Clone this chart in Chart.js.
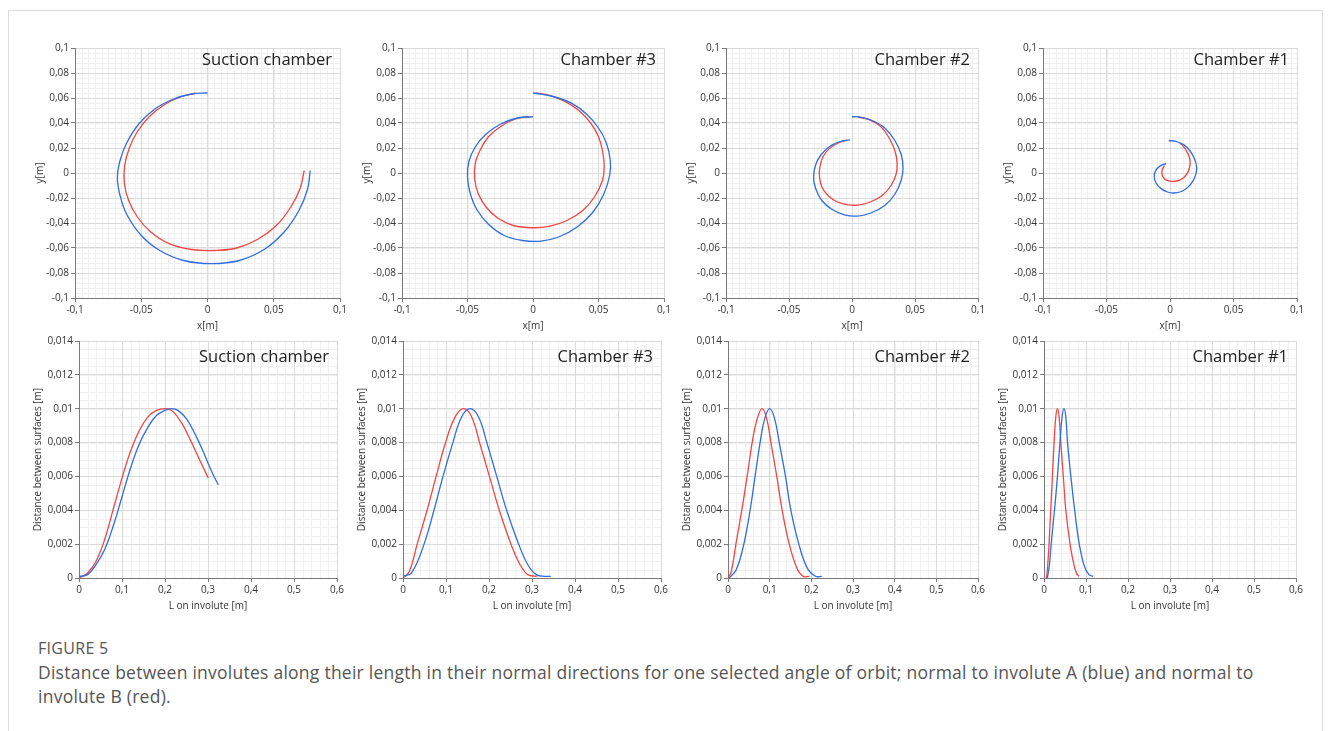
<!DOCTYPE html>
<html>
<head>
<meta charset="utf-8">
<title>Figure 5 - distance between involutes</title>
<script src="https://cdn.jsdelivr.net/npm/chart.js@4.4.1/dist/chart.umd.min.js"></script>
<style>
    body {
        margin: 0;
        width: 1330px;
        height: 731px;
        overflow: hidden;
        background: #fff;
        font-family: "Open Sans", "Noto Sans", sans-serif;
    }
    .card {
        position: absolute;
        left: 8px;
        top: 10px;
        width: 1313px;
        height: 760px;
        border: 1px solid #dcdcdc;
    }
    .fig-label {
        position: absolute;
        left: 38px;
        top: 637px;
        font-size: 16px;
        color: #555;
        letter-spacing: 0.3px;
    }
    .caption {
        position: absolute;
        left: 38px;
        top: 660px;
        font-size: 17.5px;
        letter-spacing: 0.25px;
        line-height: 24px;
        color: #555;
        white-space: nowrap;
    }
</style>
</head>
<body>
<div class="card"></div>
<div class="fig-label">FIGURE 5</div>
<div class="caption">Distance between involutes along their length in their normal directions for one selected angle of orbit; normal to involute A (blue) and normal to<br>involute B (red).</div>

<script>
// ---- data, all in metres ----

const chamberNames = ['Suction chamber', 'Chamber #3', 'Chamber #2', 'Chamber #1'];

// tick labels
const spiralTicksX = [-0.1, -0.05, 0, 0.05, 0.1];
const spiralTicksY = [-0.1, -0.08, -0.06, -0.04, -0.02, 0, 0.02, 0.04, 0.06, 0.08, 0.1];
const gapTicksX = [0, 0.1, 0.2, 0.3, 0.4, 0.5, 0.6];
const gapTicksY = [0, 0.002, 0.004, 0.006, 0.008, 0.01, 0.012, 0.014];

// involute outlines [x, y]
const suctionBlueXY = [[0.000, 0.0640], [-0.012, 0.0632], [-0.026, 0.0590], [-0.040, 0.0510], [-0.052, 0.0390],
    [-0.061, 0.0240], [-0.066, 0.0100], [-0.068, -0.004], [-0.066, -0.018], [-0.061, -0.033], [-0.050, -0.050],
    [-0.036, -0.062], [-0.018, -0.070], [0.003, -0.0725], [0.024, -0.070], [0.043, -0.061], [0.058, -0.047],
    [0.069, -0.030], [0.0755, -0.013], [0.0775, 0.002]];
const suctionRedXY = [[-0.009, 0.0638], [-0.020, 0.0610], [-0.032, 0.0550], [-0.044, 0.0450], [-0.053, 0.0330],
    [-0.059, 0.0200], [-0.0625, 0.0060], [-0.0628, -0.008], [-0.0595, -0.022], [-0.053, -0.035], [-0.043, -0.047],
    [-0.029, -0.0565], [-0.012, -0.0612], [0.005, -0.062], [0.022, -0.060], [0.038, -0.053], [0.052, -0.042],
    [0.063, -0.027], [0.070, -0.012], [0.073, 0.002]];

const ch3BlueXY = [[0.000, 0.0450], [-0.012, 0.0440], [-0.025, 0.0390], [-0.036, 0.0310], [-0.044, 0.0210],
    [-0.049, 0.0090], [-0.050, -0.003], [-0.048, -0.016], [-0.043, -0.029], [-0.034, -0.041], [-0.022, -0.050],
    [-0.008, -0.054], [0.006, -0.0545], [0.020, -0.051], [0.034, -0.043], [0.046, -0.031], [0.054, -0.017],
    [0.0585, -0.002], [0.059, 0.010], [0.056, 0.024], [0.050, 0.036], [0.041, 0.047], [0.030, 0.0555],
    [0.016, 0.061], [0.000, 0.0640]];
const ch3RedXY = [[-0.003, 0.0450], [-0.014, 0.0430], [-0.025, 0.0370], [-0.034, 0.0290], [-0.040, 0.0190],
    [-0.044, 0.0080], [-0.0446, -0.004], [-0.042, -0.016], [-0.036, -0.027], [-0.027, -0.036], [-0.015, -0.042],
    [0.000, -0.0438], [0.013, -0.0425], [0.026, -0.038], [0.038, -0.030], [0.047, -0.019], [0.053, -0.006],
    [0.0543, 0.006], [0.053, 0.018], [0.050, 0.029], [0.044, 0.040], [0.035, 0.050], [0.024, 0.0575],
    [0.012, 0.0623], [0.002, 0.0640]];

const ch2BlueXY = [[-0.0015, 0.0265], [-0.010, 0.0250], [-0.018, 0.0210], [-0.025, 0.0140], [-0.029, 0.0060],
    [-0.0305, -0.003], [-0.029, -0.012], [-0.024, -0.022], [-0.016, -0.029], [-0.006, -0.0335], [0.004, -0.0345],
    [0.015, -0.032], [0.026, -0.026], [0.034, -0.017], [0.039, -0.006], [0.0405, 0.004], [0.039, 0.015],
    [0.034, 0.026], [0.026, 0.036], [0.016, 0.042], [0.006, 0.0448], [0.000, 0.0450]];
const ch2RedXY = [[-0.004, 0.0262], [-0.011, 0.0240], [-0.018, 0.0195], [-0.023, 0.0130], [-0.0255, 0.0050],
    [-0.0258, -0.003], [-0.024, -0.011], [-0.019, -0.018], [-0.012, -0.023], [-0.003, -0.0255], [0.006, -0.0255],
    [0.015, -0.023], [0.024, -0.018], [0.031, -0.010], [0.035, -0.001], [0.0358, 0.008], [0.034, 0.018],
    [0.030, 0.027], [0.023, 0.037], [0.014, 0.0425], [0.005, 0.0448]];

const ch1BlueXY = [[-0.003, 0.0075], [-0.008, 0.0055], [-0.0115, 0.0015], [-0.0124, -0.003], [-0.011, -0.008],
    [-0.007, -0.0125], [-0.002, -0.0152], [0.003, -0.016], [0.009, -0.0148], [0.014, -0.0115], [0.018, -0.0065],
    [0.0205, -0.0005], [0.021, 0.005], [0.019, 0.012], [0.0155, 0.018], [0.011, 0.0225], [0.005, 0.0252],
    [-0.001, 0.0260]];
const ch1RedXY = [[-0.0045, 0.0060], [-0.0063, 0.0020], [-0.0060, -0.002], [-0.0040, -0.0050], [0.000, -0.0065],
    [0.004, -0.0066], [0.008, -0.0055], [0.0115, -0.003], [0.014, 0.0005], [0.0155, 0.0050], [0.0158, 0.0095],
    [0.0148, 0.0140], [0.0125, 0.0185], [0.0095, 0.0225], [0.0075, 0.0243]];

// distance between surfaces along the involute [L, d]
const suctionBlueGap = [[0, 0.0001], [0.02, 0.0002], [0.04, 0.0008], [0.06, 0.0017], [0.08, 0.0031], [0.10, 0.0048],
    [0.12, 0.0065], [0.14, 0.0079], [0.16, 0.0089], [0.18, 0.0096], [0.20, 0.0099], [0.215, 0.0100],
    [0.23, 0.0099], [0.25, 0.0094], [0.27, 0.0085], [0.29, 0.0074], [0.31, 0.0062], [0.324, 0.0055]];
const suctionRedGap = [[0, 0], [0.02, 0.0003], [0.04, 0.0010], [0.06, 0.0023], [0.08, 0.0041], [0.10, 0.0059],
    [0.12, 0.0075], [0.14, 0.0087], [0.16, 0.0095], [0.18, 0.0099], [0.2035, 0.0100], [0.22, 0.0098],
    [0.24, 0.0091], [0.26, 0.0081], [0.28, 0.0070], [0.3007, 0.0059]];

const ch3BlueGap = [[0, 0.0001], [0.02, 0.0003], [0.049, 0.002], [0.072, 0.004], [0.093, 0.006], [0.116, 0.008],
    [0.136, 0.0095], [0.156, 0.01], [0.176, 0.0095], [0.195, 0.008], [0.218, 0.006], [0.241, 0.004],
    [0.269, 0.002], [0.29, 0.0008], [0.31, 0.0002], [0.33, 0.0001], [0.344, 0.0001]];
const ch3RedGap = [[0, 0], [0.015, 0.0004], [0.033, 0.002], [0.056, 0.004], [0.077, 0.006], [0.099, 0.008],
    [0.121, 0.0095], [0.141, 0.01], [0.16, 0.0095], [0.178, 0.008], [0.201, 0.006], [0.224, 0.004],
    [0.251, 0.002], [0.272, 0.0008], [0.29, 0.0002], [0.311, 0.0001]];

const ch2BlueGap = [[0.003, 0], [0.02, 0.0005], [0.038, 0.002], [0.053, 0.004], [0.065, 0.006], [0.077, 0.008],
    [0.088, 0.0094], [0.1, 0.01], [0.112, 0.0094], [0.123, 0.008], [0.138, 0.006], [0.151, 0.004],
    [0.17, 0.002], [0.19, 0.0006], [0.21, 0.0001], [0.225, 0.0001]];
const ch2RedGap = [[0, 0], [0.008, 0.0004], [0.019, 0.002], [0.033, 0.004], [0.046, 0.006], [0.058, 0.008],
    [0.07, 0.0094], [0.082, 0.01], [0.093, 0.0094], [0.103, 0.008], [0.117, 0.006], [0.13, 0.004],
    [0.147, 0.002], [0.165, 0.0006], [0.18, 0.0001], [0.195, 0.0001]];

const ch1BlueGap = [[0.008, 0], [0.013, 0.0008], [0.017, 0.002], [0.025, 0.004], [0.032, 0.006], [0.038, 0.008],
    [0.043, 0.0095], [0.0476, 0.01], [0.052, 0.0095], [0.056, 0.008], [0.064, 0.006], [0.073, 0.004],
    [0.084, 0.002], [0.096, 0.0007], [0.107, 0.0002], [0.117, 0.0001]];
const ch1RedGap = [[0.006, 0], [0.009, 0.0008], [0.012, 0.002], [0.016, 0.004], [0.02, 0.006], [0.024, 0.008],
    [0.028, 0.0095], [0.032, 0.01], [0.036, 0.0095], [0.04, 0.008], [0.046, 0.006], [0.052, 0.004],
    [0.062, 0.002], [0.072, 0.0007], [0.079, 0.0002], [0.084, 0.0001]];

// ---- styling ----

const BLUE = '#2f6de0';
const RED = '#f24444';
const FONT = '"Open Sans", "Noto Sans", sans-serif';

Chart.defaults.font.family = FONT;
Chart.defaults.color = '#333';

// decimal comma like the original
function fmt(v) {
    return String(Number(v.toFixed(4))).replace('.', ',');
}

// light minor grid under the major one
const minorGrid = {
    id: 'minorGrid',
    beforeDraw(chart, args, opts) {
        const {ctx, chartArea: a, scales: {x, y}} = chart;
        ctx.save();
        ctx.strokeStyle = '#f0f0f0';
        ctx.lineWidth = 1;
        ctx.beginPath();
        const nx = Math.round((x.max - x.min) / opts.xStep);
        for (let i = 1; i < nx; i++) {
            const px = Math.round(x.getPixelForValue(x.min + i * opts.xStep)) + 0.5;
            ctx.moveTo(px, a.top);
            ctx.lineTo(px, a.bottom);
        }
        const ny = Math.round((y.max - y.min) / opts.yStep);
        for (let i = 1; i < ny; i++) {
            const py = Math.round(y.getPixelForValue(y.min + i * opts.yStep)) + 0.5;
            ctx.moveTo(a.left, py);
            ctx.lineTo(a.right, py);
        }
        ctx.stroke();
        ctx.restore();
    }
};

// chamber name in the top right corner of each plot
const panelName = {
    id: 'panelName',
    afterDatasetsDraw(chart, args, opts) {
        const {ctx, chartArea: a} = chart;
        ctx.save();
        ctx.font = '16.5px ' + FONT;
        ctx.fillStyle = '#222';
        ctx.textAlign = 'right';
        ctx.textBaseline = 'middle';
        ctx.fillText(opts.text, a.right - 8, a.top + opts.dy);
        ctx.restore();
    }
};

function axisOptions(tickValues, title, fitSize, isX) {
    return {
        type: 'linear',
        min: tickValues[0],
        max: tickValues[tickValues.length - 1],
        afterBuildTicks: function(scale) {
            scale.ticks = tickValues.map(v => ({ value: v }));
        },
        afterFit: function(scale) {
            if (isX) {
                scale.height = fitSize;
            } else {
                scale.width = fitSize;
            }
        },
        ticks: {
            callback: v => fmt(v),
            font: { size: 10 },
            color: '#333',
            padding: 2,
            maxRotation: 0,
            autoSkip: false
        },
        grid: { color: '#dadada', tickColor: '#7a7a7a', tickLength: 4 },
        border: { color: '#7a7a7a' },
        title: { display: true, text: title, font: { size: 10 }, color: '#333', padding: 0 }
    };
}

function lineSet(points, color) {
    return {
        data: points.map(p => ({ x: p[0], y: p[1] })),
        borderColor: color,
        borderWidth: 1.3,
        pointRadius: 0,
        showLine: true,
        fill: false,
        tension: 0.4
    };
}

function makePanel(p) {
    const left = p.x0 - p.yAxisWidth;
    const top = p.y0 - 10;
    const w = p.x1 - p.x0 + p.yAxisWidth + 12;
    const h = p.y1 - p.y0 + 10 + p.xAxisHeight;

    const canvas = document.createElement('canvas');
    canvas.width = w;
    canvas.height = h;
    canvas.style.cssText = 'position:absolute;left:' + left + 'px;top:' + top + 'px;width:' + w + 'px;height:' + h + 'px';
    document.body.appendChild(canvas);

    new Chart(canvas, {
        type: 'scatter',
        data: {
            datasets: [
                lineSet(p.blue, BLUE),
                lineSet(p.red, RED)
            ]
        },
        options: {
            responsive: false,
            animation: false,
            devicePixelRatio: 1,
            layout: { padding: { top: 10, right: 12, left: 0, bottom: 0 } },
            plugins: {
                legend: { display: false },
                tooltip: { enabled: false },
                minorGrid: { xStep: p.xStep, yStep: p.yStep },
                panelName: { text: p.name, dy: p.nameDy }
            },
            scales: {
                x: axisOptions(p.ticksX, p.titleX, p.xAxisHeight, true),
                y: axisOptions(p.ticksY, p.titleY, p.yAxisWidth, false)
            }
        },
        plugins: [minorGrid, panelName]
    });
}

// plot area edges measured on the reference (left, right)
const topAreas = [[75, 340], [402, 664], [726, 978], [1043, 1297]];
const bottomAreas = [[79, 337], [403, 661], [728, 978], [1044, 1296]];

const spiralBlue = [suctionBlueXY, ch3BlueXY, ch2BlueXY, ch1BlueXY];
const spiralRed = [suctionRedXY, ch3RedXY, ch2RedXY, ch1RedXY];
const gapBlue = [suctionBlueGap, ch3BlueGap, ch2BlueGap, ch1BlueGap];
const gapRed = [suctionRedGap, ch3RedGap, ch2RedGap, ch1RedGap];

document.addEventListener('DOMContentLoaded', function() {
    for (let i = 0; i < 4; i++) {
        makePanel({
            x0: topAreas[i][0], x1: topAreas[i][1], y0: 48, y1: 298,
            yAxisWidth: 41, xAxisHeight: 34,
            ticksX: spiralTicksX, ticksY: spiralTicksY,
            titleX: 'x[m]', titleY: 'y[m]',
            xStep: 0.005, yStep: 0.004,
            blue: spiralBlue[i], red: spiralRed[i],
            name: chamberNames[i], nameDy: 12
        });
        makePanel({
            x0: bottomAreas[i][0], x1: bottomAreas[i][1], y0: 341, y1: 578,
            yAxisWidth: 47, xAxisHeight: 34,
            ticksX: gapTicksX, ticksY: gapTicksY,
            titleX: 'L on involute [m]', titleY: 'Distance between surfaces [m]',
            xStep: 0.02, yStep: 0.0005,
            blue: gapBlue[i], red: gapRed[i],
            name: chamberNames[i], nameDy: 16
        });
    }
});
</script>
</body>
</html>
